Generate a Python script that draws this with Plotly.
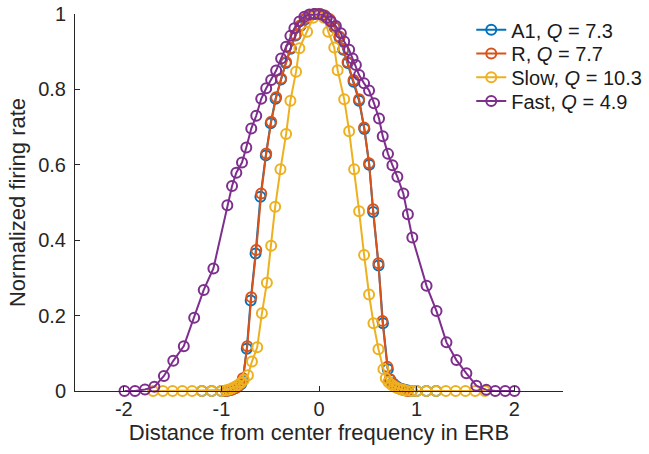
import plotly.graph_objects as go

# ---- data ----
a1_x = [-1.2, -1.1, -1.0, -0.95, -0.92, -0.89, -0.86, -0.83, -0.80, -0.78, -0.74, -0.70, -0.65, -0.60,
        -0.545, -0.495, -0.445, -0.39, -0.34, -0.29, -0.24, -0.19, -0.14, -0.09, -0.04, 0.01, 0.06,
        0.11, 0.16, 0.21, 0.25, 0.295, 0.355, 0.41, 0.465, 0.515, 0.555, 0.61, 0.655, 0.705, 0.73,
        0.76, 0.79, 0.82, 0.85, 0.88, 0.91, 0.95, 1.0, 1.1, 1.2]
a1_y = [0.0, 0.0, 0.0, 0.0, 0.002, 0.004, 0.007, 0.012, 0.018, 0.028, 0.112, 0.24, 0.365, 0.515,
        0.625, 0.71, 0.775, 0.826, 0.87, 0.908, 0.943, 0.968, 0.986, 0.996, 1.0, 1.0, 0.995,
        0.985, 0.964, 0.938, 0.905, 0.87, 0.82, 0.77, 0.695, 0.60, 0.475, 0.333, 0.18, 0.058, 0.03,
        0.02, 0.013, 0.008, 0.005, 0.003, 0.001, 0.0, 0.0, 0.0, 0.0]

r_x = [-0.95, -0.92, -0.89, -0.86, -0.83, -0.80, -0.78, -0.735, -0.694, -0.643, -0.592, -0.541,
       -0.49, -0.439, -0.388, -0.337, -0.29, -0.24, -0.19, -0.14, -0.09, -0.04, 0.01, 0.06, 0.11,
       0.16, 0.21, 0.25, 0.293, 0.354, 0.411, 0.462, 0.513, 0.554, 0.609, 0.65, 0.701, 0.725, 0.755,
       0.785, 0.815, 0.845, 0.875, 0.905]
r_y = [0.0, 0.002, 0.004, 0.007, 0.012, 0.02, 0.034, 0.119, 0.249, 0.374, 0.524, 0.63, 0.714,
       0.779, 0.829, 0.873, 0.91, 0.945, 0.97, 0.988, 0.997, 1.0, 1.0, 0.996, 0.986, 0.966, 0.94,
       0.907, 0.873, 0.825, 0.774, 0.699, 0.604, 0.482, 0.339, 0.186, 0.064, 0.032, 0.02, 0.012,
       0.007, 0.004, 0.002, 0.0]

slow_x = [-1.7, -1.6, -1.5, -1.4, -1.3, -1.2, -1.1, -1.0, -0.95, -0.92, -0.89, -0.86, -0.83, -0.80,
          -0.77, -0.728, -0.687, -0.633, -0.585, -0.534, -0.49, -0.449, -0.395, -0.337, -0.293,
          -0.235, -0.201, -0.122, -0.06, 0.0, 0.05, 0.095, 0.156, 0.191, 0.258, 0.309, 0.36, 0.411,
          0.462, 0.513, 0.558, 0.609, 0.66, 0.684, 0.71, 0.74, 0.77, 0.80, 0.83, 0.86, 0.89, 0.95,
          1.0, 1.1, 1.2, 1.3, 1.4, 1.5, 1.6, 1.7]
slow_y = [0.0, 0.0, 0.0, 0.0, 0.0, 0.0, 0.0, 0.0, 0.002, 0.004, 0.007, 0.011, 0.016, 0.022,
          0.03, 0.042, 0.078, 0.116, 0.206, 0.287, 0.385, 0.489, 0.588, 0.682, 0.77,
          0.847, 0.909, 0.953, 0.99, 1.0, 0.99, 0.953, 0.911, 0.851, 0.774, 0.689, 0.588, 0.477,
          0.361, 0.256, 0.18, 0.111, 0.058, 0.034, 0.024, 0.017, 0.012, 0.008, 0.005, 0.003, 0.001, 0.0,
          0.0, 0.0, 0.0, 0.0, 0.0, 0.0, 0.0, 0.0]

fast_x = [-1.993, -1.885, -1.783, -1.687, -1.589, -1.493, -1.385, -1.279, -1.181, -1.082, -0.939,
          -0.891, -0.847, -0.789, -0.745, -0.694, -0.643, -0.592, -0.541, -0.49, -0.439, -0.388,
          -0.337, -0.293, -0.252, -0.201, -0.15, -0.099, -0.05, 0.0, 0.04, 0.08, 0.122, 0.173,
          0.224, 0.258, 0.309, 0.344, 0.378, 0.411, 0.462, 0.513, 0.564, 0.615, 0.653, 0.707,
          0.752, 0.803, 0.864, 0.911, 0.956, 1.102, 1.204, 1.306, 1.408, 1.51, 1.612, 1.714,
          1.806, 1.908, 2.003]
fast_y = [0.0, 0.0, 0.004, 0.011, 0.04, 0.08, 0.119, 0.194, 0.268, 0.325, 0.493,
          0.544, 0.579, 0.606, 0.646, 0.696, 0.73, 0.775, 0.803, 0.825, 0.85, 0.882,
          0.913, 0.942, 0.962, 0.98, 0.993, 0.999, 1.0, 1.0, 0.997, 0.99, 0.98, 0.968,
          0.949, 0.927, 0.905, 0.882, 0.865, 0.838, 0.816, 0.797, 0.763, 0.723, 0.676, 0.629,
          0.599, 0.568, 0.524, 0.469, 0.407, 0.279, 0.212, 0.129, 0.082, 0.047, 0.014, 0.003,
          0.0, 0.0, 0.0]

names = ["A1, <i>Q</i> = 7.3", "R, <i>Q</i> = 7.7", "Slow, <i>Q</i> = 10.3", "Fast, <i>Q</i> = 4.9"]
colors = ["#0072BD", "#D95319", "#EDB120", "#7E2F8E"]
xticks = [-2, -1, 0, 1, 2]
xtick_text = ["-2", "-1", "0", "1", "2"]
yticks = [0, 0.2, 0.4, 0.6, 0.8, 1]
ytick_text = ["0", "0.2", "0.4", "0.6", "0.8", "1"]

font = "Liberation Sans, Arial, sans-serif"
axis_color = "#262626"
legend_ids = ["legend", "legend2", "legend3", "legend4"]
legend_rows_y = [0.958, 0.895, 0.832, 0.769]  # paper fractions for each legend row

fig = go.Figure()
for xs, ys, nm, c, lg in zip([a1_x, r_x, slow_x, fast_x], [a1_y, r_y, slow_y, fast_y],
                             names, colors, legend_ids):
    fig.add_trace(go.Scatter(
        x=xs, y=ys, mode="lines+markers", name=nm, legend=lg,
        line=dict(color=c, width=2),
        marker=dict(symbol="circle-open", size=10, color=c, line=dict(width=2, color=c)),
    ))

legend_common = dict(xref="paper", yref="paper", xanchor="left", yanchor="middle",
                     bgcolor="rgba(255,255,255,0)", borderwidth=0,
                     font=dict(family=font, size=20, color="#1a1a1a"))
layout_legends = {}
for lg, yy in zip(legend_ids, legend_rows_y):
    layout_legends[lg] = dict(x=0.812, y=yy, **legend_common)

fig.update_layout(
    width=649, height=454,
    margin=dict(l=75, r=86, t=14, b=63, autoexpand=False),
    paper_bgcolor="white", plot_bgcolor="white",
    font=dict(family=font, size=20, color=axis_color),
    showlegend=True,
    xaxis=dict(range=[-2.5, 2.5], tickmode="array", tickvals=xticks, ticktext=xtick_text,
               ticks="inside", ticklen=5, tickwidth=1, tickcolor=axis_color,
               showline=True, linecolor=axis_color, linewidth=1, showgrid=False, zeroline=False,
               tickfont=dict(size=20),
               title=dict(text="Distance from center frequency in ERB", font=dict(size=22), standoff=4)),
    yaxis=dict(range=[0, 1], tickmode="array", tickvals=yticks, ticktext=ytick_text,
               ticks="inside", ticklen=5, tickwidth=1, tickcolor=axis_color,
               showline=True, linecolor=axis_color, linewidth=1, showgrid=False, zeroline=False,
               tickfont=dict(size=20), ticklabelstandoff=4,
               title=dict(text="Normalized firing rate", font=dict(size=22), standoff=6)),
    **layout_legends,
)
fig.update_traces(cliponaxis=False)
fig.write_html("out.html")
